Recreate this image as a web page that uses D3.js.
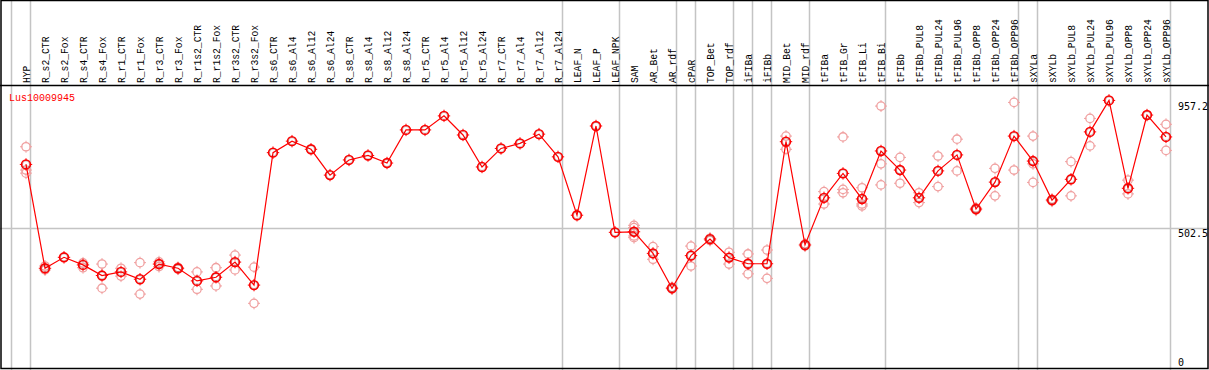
<!DOCTYPE html>
<html>
<head>
<meta charset="utf-8">
<script src="https://cdn.jsdelivr.net/npm/d3@7/dist/d3.min.js"></script>
<style>
  html, body { margin: 0; padding: 0; background: #fff; }
  svg { display: block; }
</style>
</head>
<body>
<svg id="chart" width="1209" height="370"></svg>
<script>
const categories = ["HYP","R_s2_CTR","R_s2_Fox","R_s4_CTR","R_s4_Fox","R_r1_CTR","R_r1_Fox","R_r3_CTR","R_r3_Fox","R_r1s2_CTR","R_r1s2_Fox","R_r3s2_CTR","R_r3s2_Fox","R_s6_CTR","R_s6_Al4","R_s6_Al12","R_s6_Al24","R_s8_CTR","R_s8_Al4","R_s8_Al12","R_s8_Al24","R_r5_CTR","R_r5_Al4","R_r5_Al12","R_r5_Al24","R_r7_CTR","R_r7_Al4","R_r7_Al12","R_r7_Al24","LEAF_N","LEAF_P","LEAF_NPK","SAM","AR_Bet","AR_rdf","cPAR","TOP_Bet","TOP_rdf","iFIBa","iFIBb","MID_Bet","MID_rdf","tFIBa","tFIB_Gr","tFIB_Li","tFIB_Bi","tFIBb","tFIBb_PUL8","tFIBb_PUL24","tFIBb_PUL96","tFIBb_OPP8","tFIBb_OPP24","tFIBb_OPP96","sXYLa","sXYLb","sXYLb_PUL8","sXYLb_PUL24","sXYLb_PUL96","sXYLb_OPP8","sXYLb_OPP24","sXYLb_OPP96"];

const means = [729,359,398,371,333,346,320,374,359,314,327,381,299,771,812,783,691,745,761,734,852,852,902,834,720,786,804,837,756,548,866,487,489,412,288,404,463,397,375,375,810,442,610,697,606,777,709,610,706,763,570,666,830,741,602,676,845,957.2,644,905,827];

const replicates = [
  [792,709,698],[367,353],[],[378,361],[374,288],[359,331],[379,267],[382,365],[362,356],[346,284],[361,296],[406,353],[363,234],
  [],[],[],[],[],[],[],[],[],[],[],[],[],[],[],[],[],[],[],
  [512,504,474,468],[436,391],[291,285],[438,367],[466,458],[416,374],[410,339],[424,323],[830,783],[446,438],
  [632,588],[827,640,628],[646,588,581],[937,731,656],
  [754,662],[628,593],[759,650],[819,706],[574,566],[715,617],[950,709],
  [830,731,665],[605,598],[739,617],[893,795],[],[673,624],[],[872,779]
];

const groupStarts = ["HYP","R_s2_CTR","LEAF_N","SAM","cPAR","TOP_Bet","iFIBa","iFIBb","MID_Bet","tFIBa","tFIBb","sXYLa","sXYLb"];
const yTicks = [0, 502.5, 957.2];
const yTickLabels = ["0", "502.5", "957.2"];
const gridTicks = [502.5];
const geneLabel = "Lus10009945";

const W = 1209, H = 370;
const svg = d3.select("#chart");

const x = d3.scaleBand().domain(categories).range([11, 1170]).padding(0);
const xOff = 15;
const cx = c => x(c) + xOff;
const y = d3.scaleLinear().domain([0, 957.2]).range([369, 100.4]);

// horizontal grid
svg.append("g").selectAll("line").data(gridTicks).join("line")
  .attr("x1", 0).attr("x2", W)
  .attr("y1", d => Math.round(y(d)) + 0.5).attr("y2", d => Math.round(y(d)) + 0.5)
  .attr("stroke", "#c4c4c4").attr("stroke-width", 1.5);

// vertical group lines
const vlines = groupStarts.map(c => x(c)).concat([x.range()[1]]);
svg.append("g").selectAll("line").data(vlines).join("line")
  .attr("x1", d => d + 0.5).attr("x2", d => d + 0.5)
  .attr("y1", 0).attr("y2", H)
  .attr("stroke", "#c4c4c4").attr("stroke-width", 1.5);

// borders
svg.append("rect").attr("x", 1).attr("y", 0.5).attr("width", W - 2).attr("height", 368)
  .attr("fill", "none").attr("stroke", "#000").attr("stroke-width", 1.5);
svg.append("line").attr("x1", 0).attr("x2", W).attr("y1", 85.5).attr("y2", 85.5)
  .attr("stroke", "#000").attr("stroke-width", 1.5);

// category labels
svg.append("g").selectAll("text").data(categories).join("text")
  .attr("transform", d => `translate(${cx(d) + 4},83) rotate(-90) scale(0.88,1)`)
  .attr("text-anchor", "start")
  .attr("font-family", "Liberation Mono, DejaVu Sans Mono, monospace")
  .attr("font-size", "11px")
  .attr("fill", "#000")
  .text(d => d);

// y tick labels
svg.append("g").selectAll("text").data(yTicks).join("text")
  .attr("x", 1178)
  .attr("y", (d, i) => i === 0 ? Math.min(y(d) - 3, 366) : y(d) + (i === 2 ? 9.5 : 9))
  .attr("font-family", "DejaVu Sans Mono, monospace")
  .attr("font-size", "10px")
  .attr("fill", "#000")
  .text((d, i) => yTickLabels[i]);

// gene label
svg.append("text")
  .attr("transform", "translate(9,101) scale(0.91,1)")
  .attr("font-family", "Liberation Mono, DejaVu Sans Mono, monospace")
  .attr("font-size", "11px").attr("fill", "#ff0000").text(geneLabel);

function marker(g, r, color, sw) {
  g.append("circle").attr("r", r).attr("fill", "none").attr("stroke", color).attr("stroke-width", sw);
  g.append("path").attr("d", `M0,${-r-1.8}V${-r+0.5}M0,${r-0.5}V${r+1.8}M${-r-1.8},0H${-r+0.5}M${r-0.5},0H${r+1.8}`)
    .attr("stroke", color).attr("stroke-width", 1);
}

// replicates
const repData = [];
categories.forEach((c, i) => replicates[i].forEach(v => repData.push({c, v})));
svg.append("g").selectAll("g").data(repData).join("g")
  .attr("transform", d => `translate(${cx(d.c)},${y(d.v)})`)
  .each(function() { marker(d3.select(this), 4.2, "#f0a0a0", 1.3); });

// mean line
const line = d3.line().x((d, i) => cx(categories[i])).y(d => y(d));
svg.append("path").datum(means).attr("d", line)
  .attr("fill", "none").attr("stroke", "#ff0000").attr("stroke-width", 1.2);

// mean markers
svg.append("g").selectAll("g").data(means).join("g")
  .attr("transform", (d, i) => `translate(${cx(categories[i])},${y(d)})`)
  .each(function() {
    const g = d3.select(this);
    marker(g, 4.4, "#ff0000", 1.6);
    g.append("circle").attr("r", 3.5).attr("fill", "none").attr("stroke", "#600").attr("stroke-width", 0.6).attr("opacity", 0.45);
  });
</script>
</body>
</html>
